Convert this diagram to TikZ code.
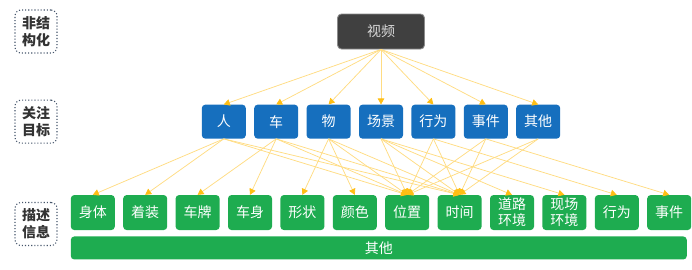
\documentclass[tikz,border=0pt]{standalone}
\usepackage{fontspec}
\usetikzlibrary{positioning,arrows.meta}
\newfontfamily\cjk{Noto Sans CJK SC}
\definecolor{darkbox}{RGB}{64,64,64}
\definecolor{darkline}{RGB}{140,140,140}
\definecolor{objblue}{RGB}{22,111,190}
\definecolor{infogreen}{RGB}{30,172,80}
\definecolor{dotblue}{RGB}{68,84,106}
\definecolor{lineyellow}{RGB}{255,220,130}
\definecolor{tipyellow}{RGB}{255,190,20}

\begin{document}
\begin{tikzpicture}[x=1pt,y=-1pt,
  topbox/.style={draw=darkline,line width=0.9pt,fill=darkbox,text=white!85!black,rounded corners=4pt,minimum width=87pt,minimum height=35pt,font=\cjk\fontsize{14}{17}\selectfont},
  obj/.style={fill=objblue,text=white,rounded corners=3.5pt,minimum width=44pt,minimum height=34pt,inner sep=1pt,font=\cjk\fontsize{14}{17}\selectfont},
  infobox/.style={fill=infogreen,text=white,rounded corners=3.5pt,minimum width=44pt,minimum height=35pt,inner sep=1pt,align=center,font=\cjk\fontsize{14}{16}\selectfont},
  tagbox/.style={draw=dotblue,dotted,line width=1.1pt,rounded corners=6pt,minimum width=42pt,minimum height=43pt,inner sep=1pt,align=center,text=black!80,font=\cjk\bfseries\fontsize{14}{17}\selectfont},
  arr/.style={-{Triangle[length=6pt,width=6.5pt,color=tipyellow]},line width=0.75pt,draw=lineyellow},
  node distance=8pt]
\useasboundingbox (0,0) rectangle (692,269);
\node[topbox] (video) at (381,31.5) {视频};
% target row
\node[obj,below=55pt of video] (scene) {场景};
\node[obj,left=of scene] (thing) {物};
\node[obj,left=of thing] (car) {车};
\node[obj,left=of car] (person) {人};
\node[obj,right=of scene] (act) {行为};
\node[obj,right=of act] (event) {事件};
\node[obj,right=of event] (other) {其他};
% description row
\node[infobox,below left=56pt and 4pt of scene.south] (dcolor) {颜色};
\node[infobox,left=of dcolor] (dshape) {形状};
\node[infobox,left=of dshape] (dshell) {车身};
\node[infobox,left=of dshell] (dplate) {车牌};
\node[infobox,left=of dplate] (dcloth) {着装};
\node[infobox,left=of dcloth] (dbody) {身体};
\node[infobox,below right=56pt and 4pt of scene.south] (dpos) {位置};
\node[infobox,right=of dpos] (dtime) {时间};
\node[infobox,right=of dtime] (droad) {道路\\环境};
\node[infobox,right=of droad] (dsite) {现场\\环境};
\node[infobox,right=of dsite] (dact) {行为};
\node[infobox,right=of dact] (devent) {事件};
\node[infobox,minimum width=616pt,minimum height=23pt,below right=6pt and 0pt of dbody.south west] (dother) {其他};
% level tags
\coordinate (lcol) at (36,0);
\node[tagbox] (tag1) at (lcol |- video) {非结\\构化};
\node[tagbox] (tag2) at (lcol |- scene) {关注\\目标};
\node[tagbox] (tag3) at (36,224) {描述\\信息};
% video to targets
\draw[arr] (video.south)--(person.north);\draw[arr] (video.south)--(car.north);
\draw[arr] (video.south)--(thing.north);\draw[arr] (video.south)--(scene.north);
\draw[arr] (video.south)--(act.north);\draw[arr] (video.south)--(event.north);
\draw[arr] (video.south)--(other.north);
% targets to descriptions
\draw[arr] (person.south)--(dbody.north);\draw[arr] (person.south)--(dcloth.north);
\draw[arr] (person.south)--(dpos.north);\draw[arr] (person.south)--(dtime.north);
\draw[arr] (car.south)--(dplate.north);\draw[arr] (car.south)--(dshell.north);
\draw[arr] (car.south)--(dpos.north);\draw[arr] (car.south)--(dtime.north);
\draw[arr] (thing.south)--(dshape.north);\draw[arr] (thing.south)--(dcolor.north);
\draw[arr] (thing.south)--(dpos.north);\draw[arr] (thing.south)--(dtime.north);
\draw[arr] (scene.south)--(dpos.north);\draw[arr] (scene.south)--(dtime.north);
\draw[arr] (scene.south)--(droad.north);\draw[arr] (scene.south)--(dsite.north);
\draw[arr] (act.south)--(dpos.north);\draw[arr] (act.south)--(dtime.north);
\draw[arr] (act.south)--(dact.north);
\draw[arr] (event.south)--(dpos.north);\draw[arr] (event.south)--(dtime.north);
\draw[arr] (event.south)--(devent.north);
\draw[arr] (other.south)--(dpos.north);\draw[arr] (other.south)--(dtime.north);
\end{tikzpicture}
\end{document}
